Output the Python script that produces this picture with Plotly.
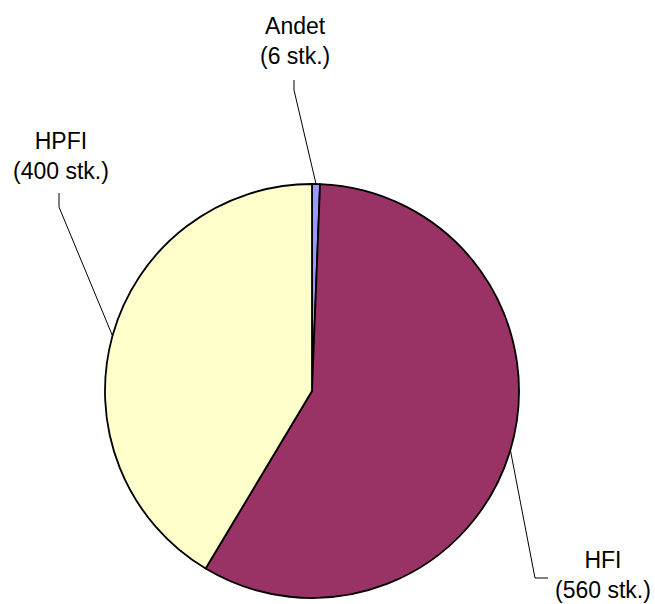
import math
import plotly.graph_objects as go

# Pie data: number of units per category
categories = ["Andet", "HFI", "HPFI"]
counts = [6, 560, 400]
colors = ["#9999FF", "#993366", "#FFFFCC"]

W, H = 655, 604
# pie geometry in pixels
cx, cy, r = 312, 391, 207

# label anchor positions (pixels) and leader-line elbows
label_pos = {"Andet": (295, 41), "HFI": (603, 575), "HPFI": (61, 156)}
elbows = {
    "Andet": [(294, 80), (294, 90)],
    "HFI": [(548, 578), (535, 578)],
    "HPFI": [(59, 193), (59, 207)],
}


def px(x, y):
    return x / W, 1 - y / H


fig = go.Figure()
fig.add_trace(go.Pie(
    labels=categories,
    values=counts,
    sort=False,
    direction="clockwise",
    rotation=0,
    marker=dict(colors=colors, line=dict(color="black", width=1.8)),
    textinfo="none",
    hoverinfo="label+value",
    showlegend=False,
    domain=dict(x=[(cx - r) / W, (cx + r) / W], y=[(H - cy - r) / H, (H - cy + r) / H]),
))

total = sum(counts)
start = 0.0
shapes = []
annotations = []
for cat, val in zip(categories, counts):
    span = val / total * 360
    mid = math.radians(start + span / 2)
    start += span
    ex, ey = cx + r * math.sin(mid), cy - r * math.cos(mid)
    pts = elbows[cat] + [(ex, ey)]
    path = "M " + " L ".join(f"{px(x, y)[0]:.5f},{px(x, y)[1]:.5f}" for x, y in pts)
    shapes.append(dict(type="path", path=path, xref="paper", yref="paper",
                       line=dict(color="black", width=1)))
    lx, ly = px(*label_pos[cat])
    annotations.append(dict(
        x=lx, y=ly, xref="paper", yref="paper", xanchor="center", yanchor="middle",
        text=f"{cat}<br>({val} stk.)", showarrow=False,
        font=dict(family="Liberation Sans, Arial", size=23, color="black"),
    ))

fig.update_layout(
    width=W, height=H,
    margin=dict(l=0, r=0, t=0, b=0),
    paper_bgcolor="white",
    plot_bgcolor="white",
    shapes=shapes,
    annotations=annotations,
)

fig.write_html("out.html")
